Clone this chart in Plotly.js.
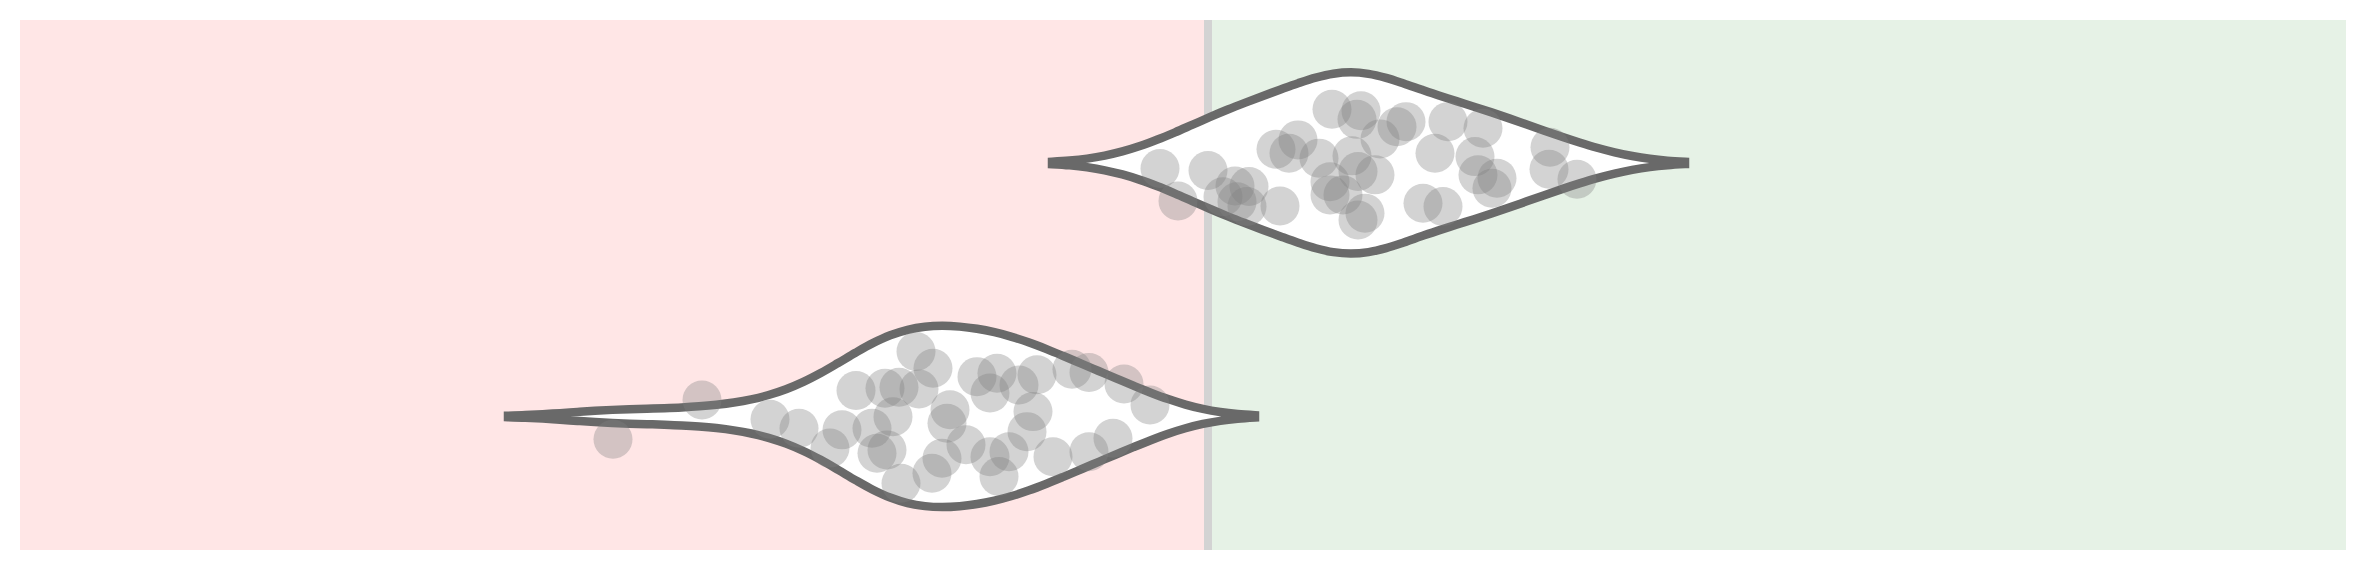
<!DOCTYPE html>
<html>
<head>
<meta charset="utf-8">
<script src="https://cdn.plot.ly/plotly-3.0.1.min.js"></script>
<style>
  html, body { margin: 0; padding: 0; background: #ffffff; }
  #chart { width: 2366px; height: 571px; }
</style>
</head>
<body>
<div id="chart"></div>
<script>
// ---- data ----
const groupNames = ["Group B", "Group A"];          // bottom, top

const groupAValues = [
  -0.48, -0.30, 0.00, 0.15, 0.27, 0.41, 0.29, 0.39, 0.72, 0.68, 0.90, 0.81,
  1.24, 1.53, 1.49, 1.98, 1.89, 1.72, 1.11, 1.44, 1.22, 1.22, 1.35, 1.50,
  1.67, 1.57, 1.50, 2.15, 2.35, 2.27, 2.40, 2.75, 2.67, 2.70, 2.89, 2.84,
  3.42, 3.41, 3.69
];
const groupAJitter = [
  -0.022, -0.150, -0.030, -0.133, -0.091, -0.093, -0.153, -0.172, -0.170, 0.054, 0.091, 0.038,
  0.212, 0.206, 0.172, 0.163, 0.143, 0.095, 0.019, 0.028, -0.074, -0.126, -0.126, -0.034,
  -0.047, -0.198, -0.225, -0.159, -0.172, 0.038, 0.163, 0.137, 0.025, -0.047, -0.060, -0.100,
  0.062, -0.025, -0.064
];

const groupBValues = [
  -5.95, -5.06, -4.38, -4.09, -3.78, -3.66, -3.52, -3.36, -3.31, -3.23, -3.09, -2.92,
  -2.75, -2.89, -3.15, -3.21, -3.07, -2.58, -2.61, -2.42, -2.66, -2.76, -2.31, -2.11,
  -2.18, -1.89, -1.71, -1.75, -1.81, -2.18, -1.99, -2.09, -1.55, -1.36, -1.19, -0.84,
  -0.58, -1.19, -0.95
];
const groupBJitter = [
  -0.090, 0.065, -0.011, -0.047, -0.125, -0.053, 0.102, -0.047, -0.145, 0.111, 0.115, 0.256,
  0.190, 0.108, -0.001, -0.132, -0.264, 0.026, -0.027, -0.112, -0.165, -0.224, 0.157, 0.170,
  0.092, 0.124, 0.164, 0.019, -0.060, -0.159, -0.139, -0.237, -0.159, 0.186, 0.173, 0.128,
  0.045, -0.139, -0.086
];
const groupBandwidths = [0.525, 0.54];

// ---- chart ----
const xRange = [-11.88, 11.38];
const yRange = [-0.527, 1.564];
const lineGray = 'rgb(105,105,105)';

function violin(values, pos, bw, name) {
  return {
    type: 'violin',
    orientation: 'h',
    x: values,
    y0: pos,
    name: name,
    bandwidth: bw,
    width: 0.715,
    points: false,
    box: { visible: false },
    meanline: { visible: false },
    fillcolor: '#ffffff',
    line: { color: lineGray, width: 8.5 },
    hoverinfo: 'skip',
    showlegend: false
  };
}

function pts(values, jitter, pos) {
  return {
    type: 'scatter',
    mode: 'markers',
    x: values,
    y: jitter.map(j => pos + j),
    marker: { size: 39, color: 'rgba(128,128,128,0.35)', line: { width: 0 } },
    hoverinfo: 'skip',
    showlegend: false
  };
}

const data = [
  violin(groupBValues, 0, groupBandwidths[0], groupNames[0]),
  violin(groupAValues, 1, groupBandwidths[1], groupNames[1]),
  pts(groupBValues, groupBJitter, 0),
  pts(groupAValues, groupAJitter, 1)
];

const layout = {
  width: 2366,
  height: 571,
  margin: { l: 20, r: 20, t: 20, b: 21, pad: 0 },
  paper_bgcolor: '#ffffff',
  plot_bgcolor: '#ffffff',
  violinmode: 'overlay',
  showlegend: false,
  hovermode: false,
  xaxis: { range: xRange, visible: false, showgrid: false, zeroline: false, fixedrange: true },
  yaxis: { range: yRange, visible: false, showgrid: false, zeroline: false, fixedrange: true },
  shapes: [
    { type: 'rect', layer: 'below', xref: 'x', yref: 'paper', x0: xRange[0], x1: 0, y0: 0, y1: 1,
      fillcolor: 'rgb(255,230,230)', line: { width: 0 } },
    { type: 'rect', layer: 'below', xref: 'x', yref: 'paper', x0: 0, x1: xRange[1], y0: 0, y1: 1,
      fillcolor: 'rgb(230,242,230)', line: { width: 0 } },
    { type: 'line', layer: 'below', xref: 'x', yref: 'paper', x0: 0, x1: 0, y0: 0, y1: 1,
      line: { color: 'rgb(211,211,211)', width: 8 } }
  ]
};

Plotly.newPlot('chart', data, layout, { displayModeBar: false, staticPlot: true });
</script>
</body>
</html>
